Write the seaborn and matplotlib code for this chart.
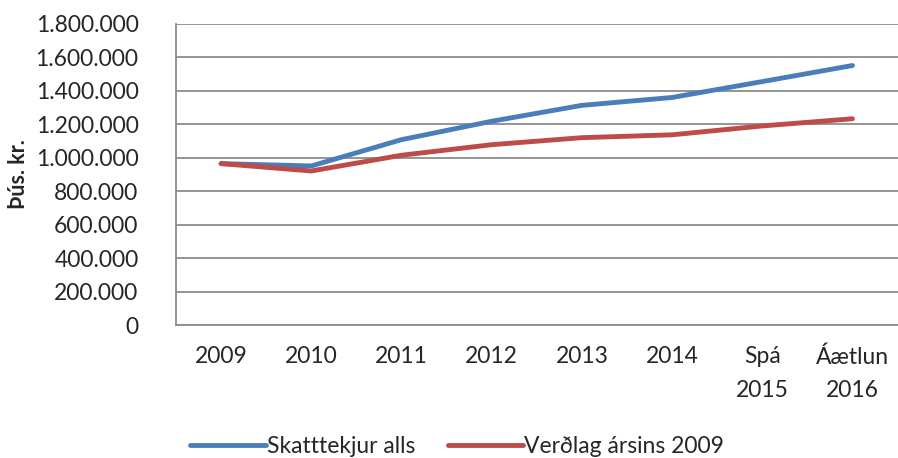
import matplotlib
matplotlib.use("Agg")
import matplotlib.pyplot as plt
import matplotlib.ticker as mticker
import pandas as pd
import seaborn as sns

years = ["2009", "2010", "2011", "2012", "2013", "2014", "Spá\n2015", "Áætlun\n2016"]
skatttekjur = [965000, 951000, 1108000, 1218000, 1313000, 1360000, 1455000, 1551000]
verdlag_2009 = [965000, 921000, 1015000, 1078000, 1120000, 1137000, 1190000, 1233000]

sns.set_style("white")
plt.rcParams['font.family'] = ['Lato', 'DejaVu Sans']

df = pd.DataFrame({
    'ar': years * 2,
    'gildi': skatttekjur + verdlag_2009,
    'rod': ['Skatttekjur alls'] * len(years) + ['Verðlag ársins 2009'] * len(years),
})

fig = plt.figure(figsize=(8.98, 4.58), dpi=100)
ax = fig.add_axes([0.196, 0.290, 0.8035, 0.658])

sns.lineplot(data=df, x='ar', y='gildi', hue='rod', sort=False,
             palette=['#4a7ebb', '#be4b48'], linewidth=3.5, ax=ax)

ax.set_xlim(-0.5, 7.5)
ax.set_ylim(0, 1800000)
ax.set_yticks(range(0, 1800001, 200000))
ax.yaxis.set_major_formatter(mticker.FuncFormatter(lambda v, p: f"{int(v):,}".replace(",", ".")))
ax.grid(axis='y', color='#8c8c8c', linewidth=1.3)
ax.set_axisbelow(True)
for s in ['top', 'right']:
    ax.spines[s].set_visible(False)
for s in ['left', 'bottom']:
    ax.spines[s].set_color('#8c8c8c')
    ax.spines[s].set_linewidth(1.3)
ax.tick_params(axis='y', which='major', length=5, color='#8c8c8c', width=1.3,
               labelsize=16.5, pad=22)
ax.tick_params(axis='x', length=0, labelsize=16.5, pad=15)
for t in ax.get_xticklabels():
    t.set_linespacing(1.75)
ax.set_xlabel('')
ax.set_ylabel('Þús. kr.', fontsize=15.5, fontweight='bold', labelpad=5)

ax.legend(loc='upper center', bbox_to_anchor=(0.39, -0.30), ncol=2, frameon=False,
          fontsize=16.5, handlelength=3.3, handletextpad=0.05, columnspacing=1.4)

fig.savefig('out.png', dpi=100)
